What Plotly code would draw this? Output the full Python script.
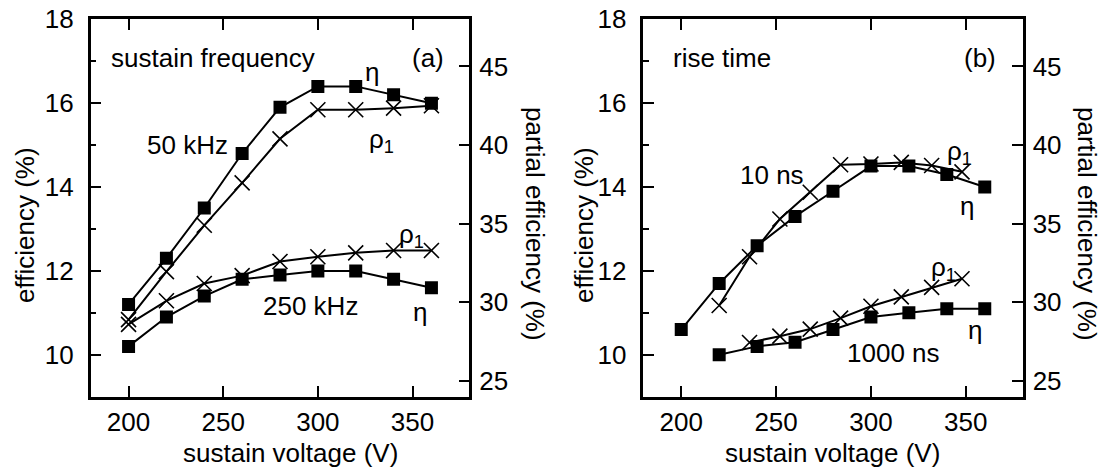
import plotly.graph_objects as go

W, H = 1102, 468

# ---------------- data ----------------
voltage = [200, 220, 240, 260, 280, 300, 320, 340, 360]

# panel (a): sustain frequency
eta_50khz = [11.2, 12.3, 13.5, 14.8, 15.9, 16.4, 16.4, 16.2, 16.0]
rho_50khz = [28.9, 31.95, 34.9, 37.6, 40.4, 42.25, 42.25, 42.35, 42.5]
eta_250khz = [10.2, 10.9, 11.4, 11.8, 11.9, 12.0, 12.0, 11.8, 11.6]
rho_250khz = [28.6, 30.1, 31.2, 31.7, 32.6, 32.9, 33.15, 33.3, 33.3]

# panel (b): rise time
eta_10ns = [10.6, 11.7, 12.6, 13.3, 13.9, 14.5, 14.5, 14.3, 14.0]
rho_10ns_v = [220, 236, 252, 268, 284, 300, 316, 332, 348]
rho_10ns = [29.8, 32.9, 35.3, 37.0, 38.75, 38.8, 38.9, 38.7, 38.3]
eta_1000ns_v = [220, 240, 260, 280, 300, 320, 340, 360]
eta_1000ns = [10.0, 10.2, 10.3, 10.6, 10.9, 11.0, 11.1, 11.1]
rho_1000ns_v = [236, 252, 268, 284, 300, 316, 332, 348]
rho_1000ns = [27.45, 27.85, 28.3, 29.0, 29.75, 30.35, 30.95, 31.5]

x_ticks = [200, 250, 300, 350]
left_ticks = [10, 12, 14, 16, 18]
left_minor = [11, 13, 15, 17]
right_ticks = [25, 30, 35, 40, 45]

FONT = "Liberation Sans, Arial, sans-serif"
FS = 26
BLACK = "black"

def px(x, y):
    return x / W, 1 - y / H

fig = go.Figure()

sq = dict(symbol="square", size=13, color=BLACK)
cr = dict(symbol="x-thin-open", size=15, color=BLACK, line=dict(width=1.6, color=BLACK))
ln = dict(color=BLACK, width=2)

def add(x, y, xa, ya, marker):
    fig.add_trace(go.Scatter(x=x, y=y, xaxis=xa, yaxis=ya, mode="lines+markers",
                             line=ln, marker=marker, showlegend=False))

add(voltage, eta_50khz, "x", "y", sq)
add(voltage, eta_250khz, "x", "y", sq)
add(voltage, rho_50khz, "x", "y2", cr)
add(voltage, rho_250khz, "x", "y2", cr)

add(voltage, eta_10ns, "x2", "y3", sq)
add(eta_1000ns_v, eta_1000ns, "x2", "y3", sq)
add(rho_10ns_v, rho_10ns, "x2", "y4", cr)
add(rho_1000ns_v, rho_1000ns, "x2", "y4", cr)

ydom = [1 - 396.7 / H, 1 - 19.3 / H]
xdom_a = [90.7 / W, 469.3 / W]
xdom_b = [643.3 / W, 1022.7 / W]

def xaxis(dom, anchor):
    return dict(domain=dom, anchor=anchor, range=[180, 380], tickvals=x_ticks,
                ticks="inside", ticklen=11, tickwidth=2, tickcolor=BLACK,
                showline=True, linewidth=2.5, linecolor=BLACK, mirror="ticks",
                showgrid=False, zeroline=False, ticklabelstandoff=0, automargin=False,
                tickfont=dict(size=FS, family=FONT, color=BLACK))

def yleft(anchor):
    return dict(domain=ydom, anchor=anchor, range=[9, 18], tickvals=left_ticks,
                ticks="inside", ticklen=11, tickwidth=2, tickcolor=BLACK,
                minor=dict(tickvals=left_minor, ticks="inside", ticklen=6,
                           tickwidth=2, tickcolor=BLACK),
                showline=True, linewidth=2.5, linecolor=BLACK, mirror=False,
                showgrid=False, zeroline=False, ticklabelstandoff=9, automargin=False,
                tickfont=dict(size=FS, family=FONT, color=BLACK))

def yright(anchor, overlay):
    return dict(domain=ydom, anchor=anchor, overlaying=overlay, side="right",
                range=[24, 48], tickvals=right_ticks,
                ticks="inside", ticklen=11, tickwidth=2, tickcolor=BLACK,
                showline=True, linewidth=2.5, linecolor=BLACK,
                showgrid=False, zeroline=False, ticklabelstandoff=2, automargin=False,
                tickfont=dict(size=FS, family=FONT, color=BLACK))

fig.update_layout(
    template="none",
    width=W, height=H,
    margin=dict(l=0, r=0, t=0, b=0, pad=0, autoexpand=False),
    paper_bgcolor="white", plot_bgcolor="white",
    font=dict(family=FONT, size=FS, color=BLACK),
    xaxis=xaxis(xdom_a, "y"),
    xaxis2=xaxis(xdom_b, "y3"),
    yaxis=yleft("x"),
    yaxis2=yright("x", "y"),
    yaxis3=yleft("x2"),
    yaxis4=yright("x2", "y3"),
)

def text(t, x, y, xanchor="center", yanchor="middle", angle=0, size=FS):
    xp, yp = px(x, y)
    fig.add_annotation(text=t, x=xp, y=yp, xref="paper", yref="paper",
                       xanchor=xanchor, yanchor=yanchor, textangle=angle,
                       showarrow=False, font=dict(size=size, family=FONT, color=BLACK))

RHO = "ρ<sub>1</sub>"

# axis titles
text("efficiency (%)", 25, 225, angle=-90)
text("partial efficiency (%)", 535, 224, angle=90)
text("sustain voltage (V)", 290, 453)
text("efficiency (%)", 584, 225, angle=-90)
text("partial efficiency (%)", 1087, 224, angle=90)
text("sustain voltage (V)", 832, 453)

# panel (a) labels
text("sustain frequency", 109, 58, xanchor="left")
text("(a)", 428, 58)
text("η", 372, 72)
text(RHO, 381, 140)
text("50 kHz", 187, 145)
text("250 kHz", 310, 306)
text(RHO, 411, 235)
text("η", 420, 312)

# panel (b) labels
text("rise time", 671, 58, xanchor="left")
text("(b)", 980, 58)
text("10 ns", 772, 175)
text(RHO, 959, 153)
text("η", 967, 206)
text(RHO, 943, 268)
text("η", 975, 330)
text("1000 ns", 893, 353)

fig.write_html("out.html", config={"displayModeBar": False},
               post_script="document.body.style.margin='0';")
